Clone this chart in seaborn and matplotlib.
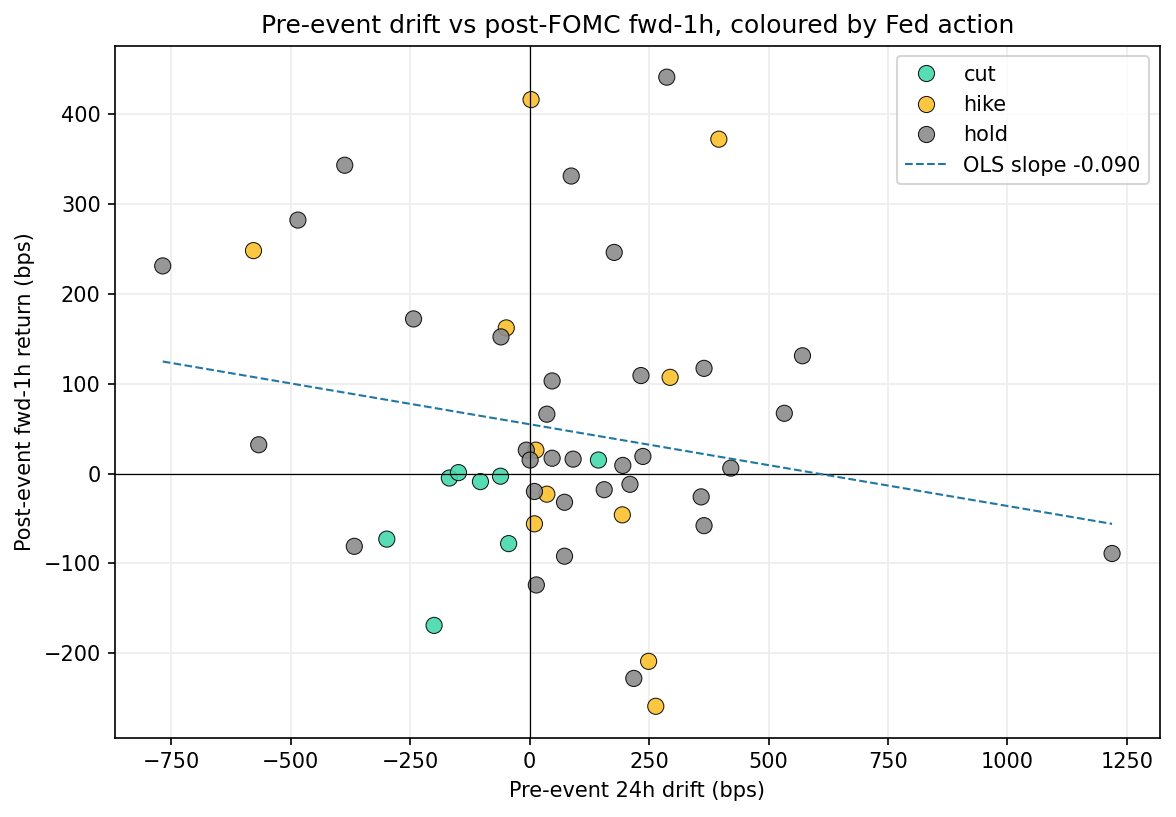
import numpy as np
import pandas as pd
import matplotlib
matplotlib.use("Agg")
import matplotlib.pyplot as plt
import seaborn as sns

# Pre-event 24h drift (bps) and post-event fwd-1h return (bps)
cut_drift = [-168, -149, -103, -61, 144, -299, -44, -200]
cut_ret = [-5, 1, -9, -3, 15, -73, -78, -169]

hike_drift = [13, 36, 10, 194, -578, 3, 396, -49, 294, 249, 264]
hike_ret = [26, -23, -56, -46, 248, 416, 372, 162, 107, -209, -259]

hold_drift = [-7, 1, 47, 91, 195, 237, 421, 10, 73, 156, 210, 359, 365, 73, 14,
              -60, 47, 36, 233, 365, 533, 287, 87, 177, -387, -485, -768, -243,
              571, -567, -367, 218, 1219]
hold_ret = [26, 15, 17, 16, 9, 19, 6, -20, -32, -18, -12, -26, -58, -92, -124,
            152, 103, 66, 109, 117, 67, 441, 331, 246, 343, 282, 231, 172,
            131, 32, -81, -228, -89]

actions = ["cut", "hike", "hold"]
palette = {"cut": "#45d9ad", "hike": "#fbc02d", "hold": "#8c8c8c"}
ols_label = "OLS slope -0.090"

df = pd.DataFrame({
    "drift": cut_drift + hike_drift + hold_drift,
    "ret": cut_ret + hike_ret + hold_ret,
    "action": ["cut"] * len(cut_drift) + ["hike"] * len(hike_drift) + ["hold"] * len(hold_drift),
})

# simple OLS fit of return on drift
slope, intercept = np.polyfit(df["drift"], df["ret"], 1)
xs = np.array([df["drift"].min(), df["drift"].max()])

fig, ax = plt.subplots(figsize=(7.84, 5.447), dpi=150)
ax.grid(True, color="#ececec", linewidth=0.8)
ax.set_axisbelow(True)
ax.axhline(0, color="black", linewidth=0.6)
ax.axvline(0, color="black", linewidth=0.6)

sns.scatterplot(data=df, x="drift", y="ret", hue="action", hue_order=actions,
                palette=palette, s=60, alpha=0.9, edgecolor="black", linewidth=0.5, ax=ax)
ax.plot(xs, intercept + slope * xs, linestyle="--", color="#1f77a4", linewidth=1,
        label=ols_label)

ax.legend(loc="upper right", title=None)
ax.set_title("Pre-event drift vs post-FOMC fwd-1h, coloured by Fed action")
ax.set_xlabel("Pre-event 24h drift (bps)")
ax.set_ylabel("Post-event fwd-1h return (bps)")

fig.subplots_adjust(left=0.098, right=0.986, top=0.944, bottom=0.097)
fig.savefig("out.png", dpi=150)
plt.close(fig)
